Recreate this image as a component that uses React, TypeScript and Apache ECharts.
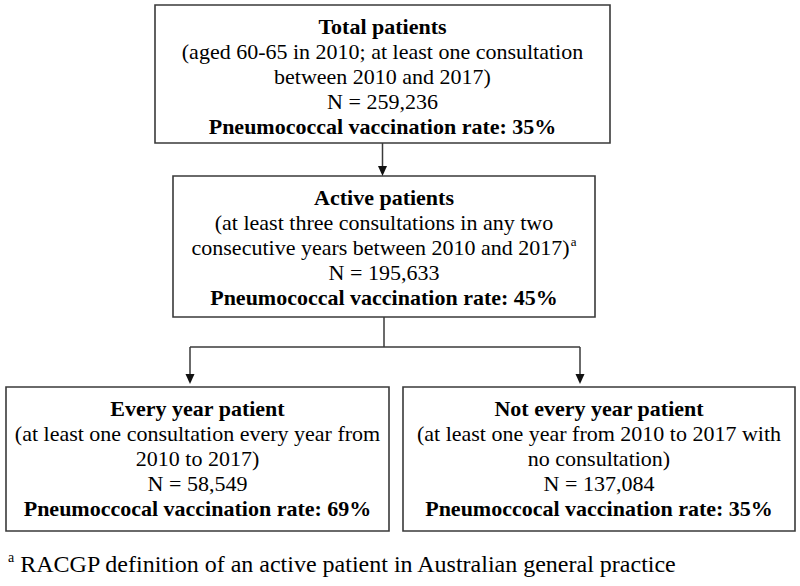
import React, { useEffect, useRef } from "react";
import * as echarts from "echarts";

const boxTitles = ["Total patients", "Active patients", "Every year patient", "Not every year patient"];
const boxDescriptions = [
  ["(aged 60-65 in 2010; at least one consultation", "between 2010 and 2017)"],
  ["(at least three consultations in any two", "consecutive years between 2010 and 2017)"],
  ["(at least one consultation every year from", "2010 to 2017)"],
  ["(at least one year from 2010 to 2017 with", "no consultation)"],
];
const patientCounts = [259236, 195633, 58549, 137084];
const rateLabels = [
  "Pneumococcal vaccination rate",
  "Pneumococcal vaccination rate",
  "Pneumoccocal vaccination rate",
  "Pneumoccocal vaccination rate",
];
const vaccinationRates = [35, 45, 69, 35];
const footnoteMark = "a";
const footnoteText = "RACGP definition of an active patient in Australian general practice";

// layout (positions only)
const boxLayout = [
  { x: 155, y: 5, w: 455, h: 138 },
  { x: 173, y: 176, w: 422, h: 141 },
  { x: 6, y: 387, w: 383, h: 144 },
  { x: 403, y: 387, w: 392, h: 144 },
];
const FAMILY = "'Liberation Serif', 'Times New Roman', 'DejaVu Serif', serif";
const font = (size: number, bold = false) => (bold ? "bold " : "") + size + "px " + FAMILY;
const LINE_COLOR = "#3a3a3a";
const BOX_FONT = 22;

function arrowHead(x: number, tipY: number) {
  return {
    type: "polygon",
    shape: { points: [[x - 4.5, tipY - 10], [x + 4.5, tipY - 10], [x, tipY]] },
    style: { fill: "#111" },
    silent: true,
  };
}

function vline(x: number, y1: number, y2: number) {
  return {
    type: "line",
    shape: { x1: x, y1, x2: x, y2 },
    style: { stroke: LINE_COLOR, lineWidth: 1.5 },
    silent: true,
  };
}

export default function App() {
  const ref = useRef<HTMLDivElement>(null);
  useEffect(() => {
    if (!ref.current) return;
    const chart = echarts.init(ref.current, undefined, { renderer: "svg" });
    const elements: any[] = [];

    boxLayout.forEach((b, i) => {
      elements.push({
        type: "rect",
        shape: { x: b.x, y: b.y, width: b.w, height: b.h },
        style: { fill: "#fff", stroke: LINE_COLOR, lineWidth: 1.6 },
        silent: true,
      });
      const cx = b.x + b.w / 2;
      const lines: { text: string; bold: boolean; sup?: boolean }[] = [
        { text: boxTitles[i], bold: true },
        ...boxDescriptions[i].map((t, j) => ({ text: t, bold: false, sup: i === 1 && j === 1 })),
        { text: "N = " + patientCounts[i].toLocaleString("en-US"), bold: false },
        { text: rateLabels[i] + ": " + vaccinationRates[i] + "%", bold: true },
      ];
      lines.forEach((ln, k) => {
        const y = b.y + 21 + k * 25;
        if (ln.sup) {
          elements.push({
            type: "text",
            x: cx,
            y,
            style: {
              text: "{n|" + ln.text + "}{s|" + footnoteMark + "}",
              textAlign: "center",
              textVerticalAlign: "middle",
              fill: "#000",
              rich: {
                n: { font: font(BOX_FONT), lineHeight: 24, verticalAlign: "middle", fill: "#000" },
                s: { font: font(13), lineHeight: 24, verticalAlign: "top", fill: "#000", padding: [0, 0, 0, 1] },
              },
            },
            silent: true,
          });
        } else {
          elements.push({
            type: "text",
            x: cx,
            y,
            style: {
              text: ln.text,
              textAlign: "center",
              textVerticalAlign: "middle",
              font: font(BOX_FONT, ln.bold),
              fill: "#000",
            },
            silent: true,
          });
        }
      });
    });

    // connectors
    const c0 = boxLayout[0].x + boxLayout[0].w / 2;
    const c1 = boxLayout[1].x + boxLayout[1].w / 2;
    elements.push(vline(c0, boxLayout[0].y + boxLayout[0].h, boxLayout[1].y - 8));
    elements.push(arrowHead(c0, boxLayout[1].y));
    const branchY = 347;
    const leftX = 190;
    const rightX = 580;
    elements.push(vline(c1, boxLayout[1].y + boxLayout[1].h, branchY));
    elements.push({
      type: "line",
      shape: { x1: leftX, y1: branchY, x2: rightX, y2: branchY },
      style: { stroke: LINE_COLOR, lineWidth: 1.5 },
      silent: true,
    });
    elements.push(vline(leftX, branchY, boxLayout[2].y - 10));
    elements.push(arrowHead(leftX, boxLayout[2].y - 3));
    elements.push(vline(rightX, branchY, boxLayout[3].y - 10));
    elements.push(arrowHead(rightX, boxLayout[3].y - 3));

    // footnote
    elements.push({
      type: "text",
      x: 8,
      y: 564,
      style: {
        text: "{s|" + footnoteMark + "}{n| " + footnoteText + "}",
        textAlign: "left",
        textVerticalAlign: "middle",
        fill: "#000",
        rich: {
          n: { font: font(24), lineHeight: 28, verticalAlign: "middle", fill: "#000" },
          s: { font: font(14), lineHeight: 28, verticalAlign: "top", fill: "#000" },
        },
      },
      silent: true,
    });

    chart.setOption({
      animation: false,
      backgroundColor: "#fff",
      graphic: { elements },
    });
    return () => chart.dispose();
  }, []);
  return (
    <div
      ref={ref}
      style={{ position: "fixed", left: 0, top: 0, width: 800, height: 586, background: "#fff" }}
    />
  );
}
